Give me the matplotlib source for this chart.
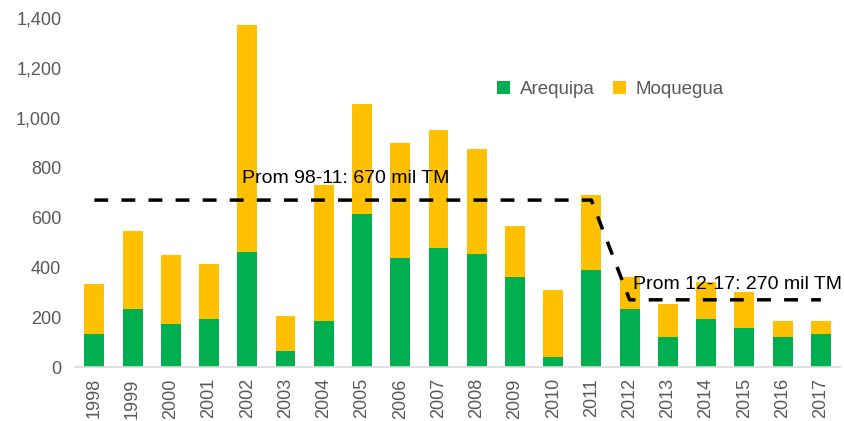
import numpy as np
import matplotlib
matplotlib.use("Agg")
import matplotlib.pyplot as plt
from matplotlib.ticker import FuncFormatter

plt.rcParams['font.family'] = ['Liberation Sans', 'DejaVu Sans']

# data (thousand TM)
years = [str(y) for y in range(1998, 2018)]
arequipa = [132, 232, 172, 192, 460, 64, 184, 616, 436, 476, 452, 360, 40, 389, 232, 121, 193, 157, 121, 132]
total = [332, 544, 448, 412, 1372, 204, 732, 1056, 900, 952, 876, 568, 308, 689, 362, 252, 341, 300, 184, 184]
moquegua = [t - a for t, a in zip(total, arequipa)]

# average line: 98-11 and 12-17
avg_x = [0, 13, 14, 19]
avg_y = [670, 670, 270, 270]

green = '#00B050'
yellow = '#FFC000'
grey = '#595959'

fig = plt.figure(figsize=(8.45, 4.21), dpi=100)
ax = fig.add_axes([0.089, 0.128, 0.905, 0.829])

x = np.arange(len(years))
ax.bar(x, arequipa, width=0.52, color=green, label='Arequipa', zorder=2)
ax.bar(x, moquegua, width=0.52, bottom=arequipa, color=yellow, label='Moquegua', zorder=2)

plt.rcParams['lines.scale_dashes'] = False
ax.plot(avg_x, avg_y, color='black', lw=2.5, linestyle=(0, (10, 9.5)), zorder=3)

ax.text(3.87, 740, 'Prom 98-11: 670 mil TM', fontsize=14, color='black', zorder=4)
ax.text(14.08, 312, 'Prom 12-17: 270 mil TM', fontsize=14, color='black', zorder=4)

ax.set_xlim(-0.5, 19.5)
ax.set_ylim(0, 1400)
ax.set_yticks(range(0, 1401, 200))
ax.yaxis.set_major_formatter(FuncFormatter(lambda v, p: f'{int(v):,}'))
ax.set_xticks(x)
ax.set_xticklabels(years, rotation=90)
ax.tick_params(axis='both', length=0, labelsize=13, colors=grey)
ax.tick_params(axis='x', pad=8)
ax.tick_params(axis='y', pad=10)

for s in ['top', 'right', 'left']:
    ax.spines[s].set_visible(False)
ax.spines['bottom'].set_color('#D9D9D9')
ax.spines['bottom'].set_linewidth(1.2)

leg = ax.legend(loc='center', bbox_to_anchor=(0.70, 0.795), ncol=2, frameon=False,
                fontsize=13.5, handlelength=0.7, handleheight=0.7, columnspacing=1.0,
                handletextpad=0.5)
for t in leg.get_texts():
    t.set_color(grey)

fig.savefig('out.png', dpi=100)
